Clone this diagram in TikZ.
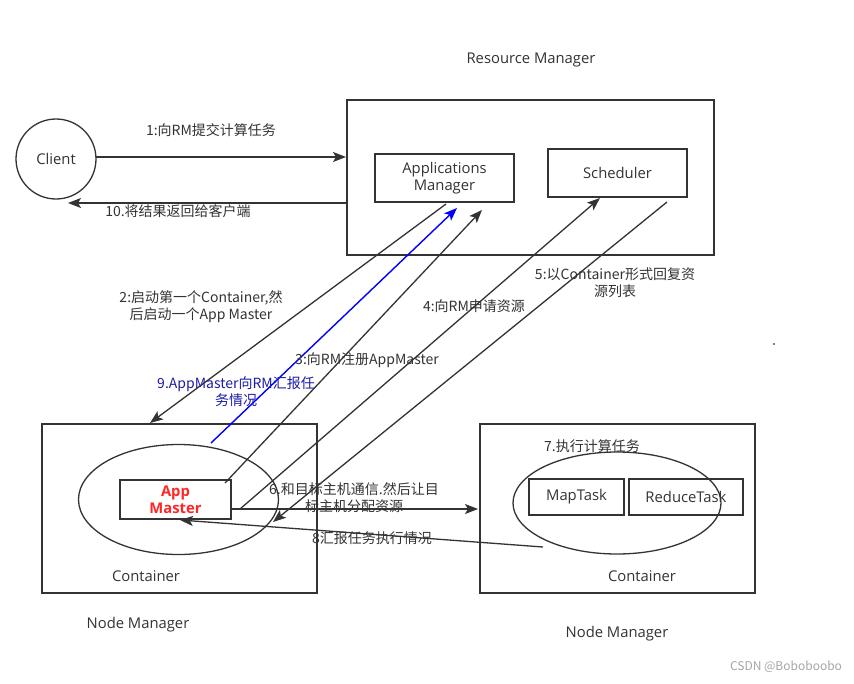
\documentclass[tikz,border=0pt]{standalone}
\usepackage{fontspec}
\setmainfont{Noto Sans CJK SC}
\newfontfamily\latinfont{Open Sans}
\usetikzlibrary{arrows.meta}
\definecolor{ink}{HTML}{333333}
\definecolor{bluetext}{HTML}{1C1CA8}
\begin{document}
\begin{tikzpicture}[x=1pt,y=-1pt,
  box/.style={draw=ink,line width=1.4pt,inner sep=0pt},
  lbl/.style={text=ink,font=\fontsize{14}{17}\selectfont,align=center,inner sep=0pt},
  lat/.style={text=ink,font=\latinfont\fontsize{14.8}{17.5}\selectfont,align=center,inner sep=0pt},
  conn/.style={draw=ink,line width=1.3pt,-{Stealth[length=13pt,width=10pt,inset=3pt]}}]
\useasboundingbox (0,0) rectangle (854,683);
\fill[white] (0,0) rectangle (854,683);

% Resource manager
\node[lat] (rmlabel) at (531,60) {Resource Manager};
\node[box,minimum width=367pt,minimum height=155pt] (rm) at (530.5,177.5) {};
\node[box,minimum width=139pt,minimum height=48pt,lat] (am) at (444.5,178) {Applications\\Manager};
\node[box,minimum width=139pt,minimum height=48pt,lat] (sch) at (617.5,173) {Scheduler};

% Client
\node[draw=ink,line width=1.3pt,circle,minimum size=80pt,lat] (client) at (56,159) {Client};

% Left node manager
\node[box,minimum width=275pt,minimum height=169pt] (nm1) at (179.5,508.5) {};
\draw[ink,line width=1.3pt] (178.5,499.5) ellipse [x radius=100,y radius=55];
\node[box,minimum width=111pt,minimum height=39pt,text=red!85!white,font=\latinfont\bfseries\fontsize{14.8}{17}\selectfont,align=center] (appm) at (175.5,499.5) {App\\Master};
\node[lat] (c1) at (146,576) {Container};
\node[lat] (nm1l) at (138,625) {Node Manager};

% Right node manager
\node[box,minimum width=275pt,minimum height=169pt] (nm2) at (617.5,508.5) {};
\draw[ink,line width=1.3pt] (617,503) ellipse [x radius=104,y radius=51];
\node[box,minimum width=95pt,minimum height=36pt,lat] (map) at (576.5,497) {MapTask};
\node[box,minimum width=114pt,minimum height=36pt,lat] (red) at (686,497) {ReduceTask};
\node[lat] (c2) at (642,576) {Container};
\node[lat] (nm2l) at (617,634) {Node Manager};
\node[lbl] (t7) at (592,446) {7.执行计算任务};

% coordinates
\coordinate (a1s) at (96,157);   \coordinate (a1e) at (346,157);
\coordinate (a10s) at (347,203); \coordinate (a10e) at (68,203);
\coordinate (a2s) at (446,204);  \coordinate (a2e) at (150,423);
\coordinate (a9s) at (211,443);  \coordinate (a9e) at (457,208);
\coordinate (a3s) at (225,483);  \coordinate (a3e) at (482,210);
\coordinate (a4s) at (240,509);  \coordinate (a4e) at (600,198);
\coordinate (a5s) at (667,202);  \coordinate (a5e) at (273,522);
\coordinate (a6s) at (231,509);  \coordinate (a6e) at (478,509);
\coordinate (a8s) at (543,547);  \coordinate (a8e) at (180,520);

\draw[conn] (a1s) -- (a1e);
\draw[conn] (a10s) -- (a10e);
\draw[conn] (a2s) -- (a2e);
\draw[conn,draw=blue,line width=1.4pt] (a9s) -- (a9e);
\draw[conn] (a3s) -- (a3e);
\draw[conn] (a4s) -- (a4e);
\draw[conn] (a5s) -- (a5e);
\draw[conn] (a6s) -- (a6e);
\draw[conn] (a8s) -- (a8e);

% labels
\node[lbl] (l1) at (211,130) {1:向RM提交计算任务};
\node[lbl] (l10) at (178,211) {10.将结果返回给客户端};
\node[lbl] (l2) at (201,307) {2:启动第一个Container,然\\后启动一个App Master};
\node[lbl] (l3) at (367,360) {3:向RM注册AppMaster};
\node[lbl] (l4) at (474,306) {4:向RM申请资源};
\node[lbl] (l5) at (615,283) {5:以Container形式回复资\\源列表};
\node[lbl,text=bluetext] (l9) at (236,392) {9.AppMaster向RM汇报任\\务情况};
\node[lbl] (l6) at (354,498) {6.和目标主机通信.然后让目\\标主机分配资源};
\node[lbl] (l8) at (372,538) {8汇报任务执行情况};

\fill[black] (774,344) circle (0.8pt);
\node[text=gray!70,font=\fontsize{12}{14}\selectfont,inner sep=0pt] (wm) at (786,667) {CSDN @Boboboobo};
\end{tikzpicture}
\end{document}
